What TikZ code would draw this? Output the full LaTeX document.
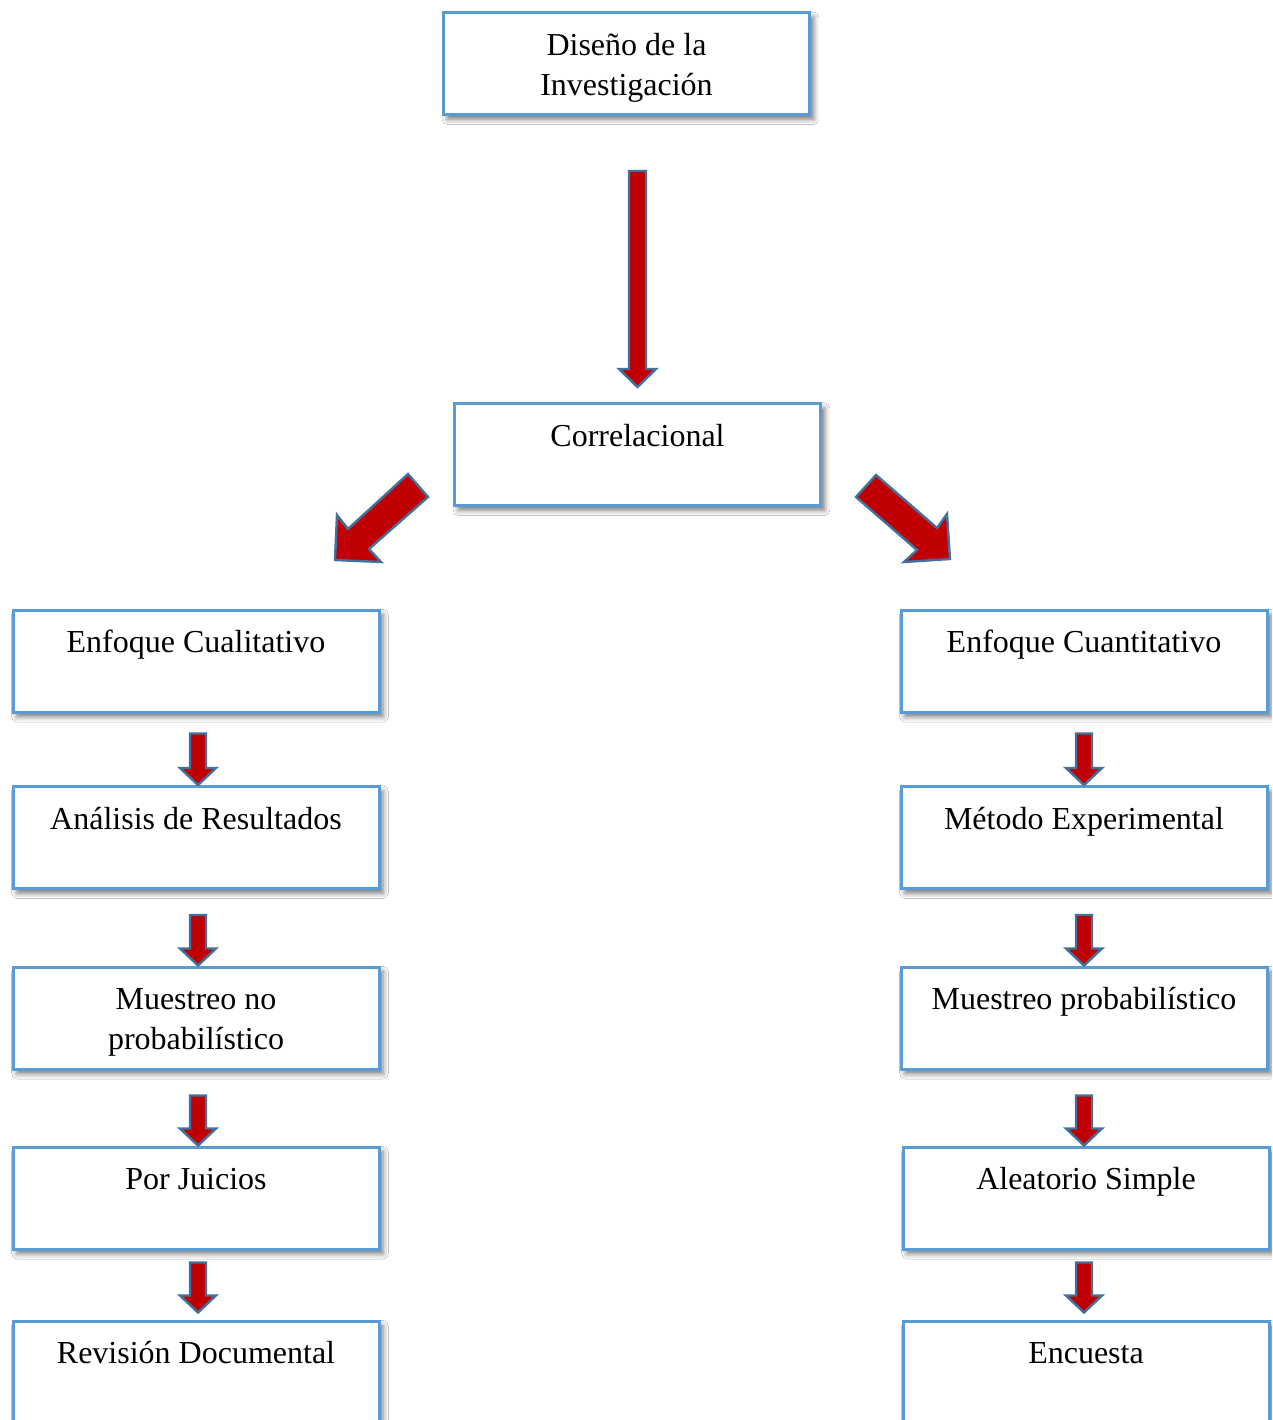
\documentclass[tikz,border=0pt]{standalone}
\usepackage{fontspec}
\setmainfont{Liberation Serif}
\usetikzlibrary{calc,shadows.blur}

\definecolor{boxblue}{HTML}{5B9BD5}
\definecolor{arrowred}{HTML}{C00000}
\definecolor{arrowedge}{HTML}{41719C}

% box contents: text hangs from the top edge of a fixed-size box
\newcommand{\boxtext}[1]{\parbox[t][76.5pt][t]{274.5pt}{\centering\rule{0pt}{32pt}#1}}

% vertical block arrow: #1 top point, #2 tip point, #3 half shaft, #4 half head, #5 head length
\newcommand{\blockdown}[5]{%
  \draw[blockarrow] let \p1=#1, \p2=#2 in
    (\x2-#3,\y1) -- (\x2+#3,\y1) -- (\x2+#3,\y2+#5) -- (\x2+#4,\y2+#5)
    -- (\x2,\y2) -- (\x2-#4,\y2+#5) -- (\x2-#3,\y2+#5) -- cycle;}
\newcommand{\smallarrow}[2]{\blockdown{#1}{#2}{6pt}{13.5pt}{12.75pt}}

\tikzset{
  box/.style={draw=boxblue, line width=2.25pt, fill=white, inner sep=0pt,
    anchor=north west, font=\fontsize{24pt}{30pt}\selectfont,
    blur shadow={shadow xshift=3pt, shadow yshift=-3.5pt,
      shadow blur radius=4pt, shadow opacity=55}},
  blockarrow/.style={fill=arrowred, draw=arrowedge, line width=1.8pt, line join=miter}
}

\begin{document}
\begin{tikzpicture}[x=0.75pt, y=-0.75pt]
  \useasboundingbox (0,0) rectangle (1272,1420);
  \fill[white] (0,0) rectangle (1272,1420);
  \clip (0,0) rectangle (1272,1420);

  % top of the hierarchy
  \node[box] (top)  at (442,11)  {\boxtext{Diseño de la\\Investigación}};
  \node[box] (corr) at (453,402) {\boxtext{Correlacional}};

  % qualitative branch
  \node[box] (L1) at (11.5,608.5)  {\boxtext{Enfoque Cualitativo}};
  \node[box] (L2) at (11.5,785)    {\boxtext{Análisis de Resultados}};
  \node[box] (L3) at (11.5,965.5)  {\boxtext{Muestreo no\\probabilístico}};
  \node[box] (L4) at (11.5,1145.5) {\boxtext{Por Juicios}};
  \node[box] (L5) at (11.5,1319.5) {\boxtext{Revisión Documental}};

  % quantitative branch
  \node[box] (R1) at (899.5,608.5)  {\boxtext{Enfoque Cuantitativo}};
  \node[box] (R2) at (899.5,785)    {\boxtext{Método Experimental}};
  \node[box] (R3) at (899.5,965.5)  {\boxtext{Muestreo probabilístico}};
  \node[box] (R4) at (901.5,1145.5) {\boxtext{Aleatorio Simple}};
  \node[box] (R5) at (901.5,1319.5) {\boxtext{Encuesta}};

  % main down arrow
  \blockdown{($(top.south)+(11,55)$)}{($(corr.north)+(0,-15)$)}{6.375pt}{13.875pt}{13.5pt}

  % diagonal arrows towards both branches
  \draw[blockarrow] (408,474) -- (428,497) -- (369,549) -- (381,562)
    -- (335,560) -- (337,515) -- (348,529) -- cycle;
  \draw[blockarrow] (876,475) -- (937,528) -- (947,514) -- (950,559)
    -- (904,562) -- (917,550) -- (856,497) -- cycle;

  % left column arrows
  \smallarrow{($(L1.south)+(2,20)$)}{($(L2.north)+(2,0)$)}
  \smallarrow{($(L2.south)+(2,25)$)}{($(L3.north)+(2,0)$)}
  \smallarrow{($(L3.south)+(2,25)$)}{($(L4.north)+(2,0)$)}
  \smallarrow{($(L4.south)+(2,12)$)}{($(L5.north)+(2,-7)$)}

  % right column arrows
  \smallarrow{($(R1.south)+(0,20)$)}{($(R2.north)+(0,0)$)}
  \smallarrow{($(R2.south)+(0,25)$)}{($(R3.north)+(0,0)$)}
  \smallarrow{($(R3.south)+(0,25)$)}{($(R4.north)+(-2,0)$)}
  \smallarrow{($(R4.south)+(-2,12)$)}{($(R5.north)+(-2,-7)$)}
\end{tikzpicture}
\end{document}
